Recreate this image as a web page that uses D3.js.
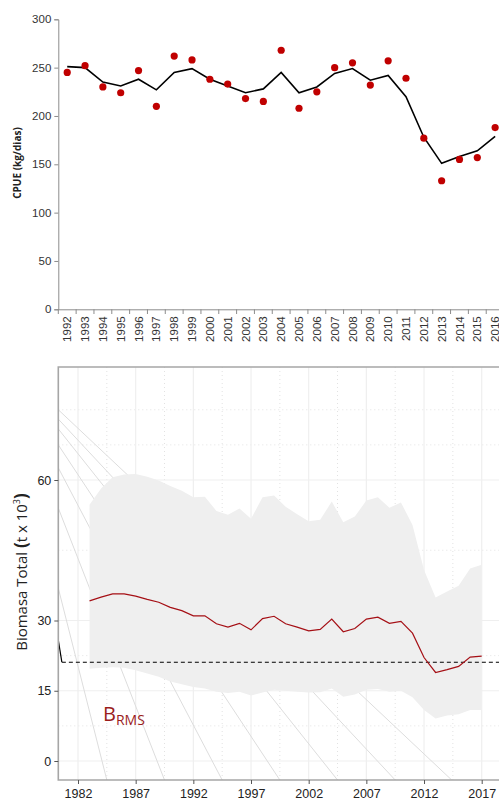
<!DOCTYPE html>
<html>
<head>
<meta charset="utf-8">
<script src="https://cdn.jsdelivr.net/npm/d3@7"></script>
<style>
  body { margin: 0; background: #fff; }
  svg { display: block; font-family: "Open Sans", sans-serif; }
</style>
</head>
<body>
<svg id="chart" width="499" height="798"></svg>
<script>
// ---- top panel: CPUE ----
const cpueYears = ['1992','1993','1994','1995','1996','1997','1998','1999','2000','2001','2002','2003',
    '2004','2005','2006','2007','2008','2009','2010','2011','2012','2013','2014','2015','2016'];
const cpueObs = [245, 252, 230, 224, 247, 210, 262, 258, 238, 233, 218, 215,
    268, 208, 225, 250, 255, 232, 257, 239, 177, 133, 155, 157, 188];
const cpueFit = [251, 250, 235, 231, 238, 227, 245, 249, 238, 231, 224, 228,
    245, 224, 230, 244, 249, 237, 242, 220, 178, 151, 158, 164, 179];
const cpueTicks = [0, 50, 100, 150, 200, 250, 300];

// ---- bottom panel: biomass ----
const bioYears = [1983,1984,1985,1986,1987,1988,1989,1990,1991,1992,1993,1994,1995,1996,1997,1998,1999,
    2000,2001,2002,2003,2004,2005,2006,2007,2008,2009,2010,2011,2012,2013,2014,2015,2016,2017];
const bioMid = [34.2, 35.0, 35.7, 35.7, 35.2, 34.5, 33.9, 32.8, 32.1, 31.0, 31.0, 29.3, 28.6, 29.4, 28.0,
    30.4, 30.9, 29.3, 28.6, 27.8, 28.1, 30.3, 27.6, 28.3, 30.3, 30.7, 29.4, 29.8, 27.3, 22.1, 18.9, 19.5,
    20.2, 22.2, 22.4];
const bioUpper = [54.7, 58.2, 60.6, 61.2, 61.3, 60.7, 59.9, 58.7, 57.7, 56.3, 56.4, 53.4, 52.6, 53.9, 51.7,
    56.3, 56.7, 54.3, 52.7, 51.2, 51.5, 55.4, 51.0, 52.2, 55.6, 56.3, 54.1, 55.2, 50.4, 40.8, 34.9, 36.2,
    37.4, 41.1, 41.9];
const bioLower = [19.7, 19.9, 20.0, 19.9, 19.4, 18.7, 18.0, 17.0, 16.4, 15.8, 15.5, 14.8, 14.5, 14.8, 14.0,
    14.6, 15.2, 15.0, 14.8, 14.6, 14.7, 15.5, 13.7, 14.2, 15.2, 15.4, 14.8, 15.0, 13.6, 10.9, 9.1, 9.7,
    10.0, 10.9, 10.9];
const bRms = 21.1;
const bioYTicks = [0, 15, 30, 60];
const bioYMinor = [7.5, 22.5, 45, 67.5, 75];
const bioXTicks = [1982, 1987, 1992, 1997, 2002, 2007, 2012, 2017];
const bioXMinor = [1984.5, 1989.5, 1994.5, 1999.5, 2004.5, 2009.5, 2014.5];
// faint diagonal background lines: value where they leave the left edge, year where they hit the bottom
const diagStart = [75.0, 73.0, 70.9, 67.5, 62.6, 54.0, 36.9];
const diagEnd = [2014.4, 2009.5, 2004.5, 1999.5, 1994.5, 1989.5, 1984.5];

const svg = d3.select('#chart');

// ================= top chart =================
const topG = svg.append('g');
const x1 = d3.scaleBand().domain(cpueYears).range([58.3, 58.3 + 25 * 17.83]);
const y1 = d3.scaleLinear().domain([0, 300]).range([309.3, 19.3]);

const yAxis1 = topG.append('g')
    .attr('transform', 'translate(58.3,0)')
    .call(d3.axisLeft(y1).tickValues(cpueTicks).tickSize(4).tickPadding(3));
yAxis1.select('.domain').attr('stroke', '#8c8c8c');
yAxis1.selectAll('.tick line').attr('stroke', '#8c8c8c');
yAxis1.selectAll('text').attr('font-size', 11.5).attr('fill', '#333');

const xAxis1 = topG.append('g')
    .attr('transform', 'translate(0,309.3)')
    .call(d3.axisBottom(x1).tickSize(0).tickPadding(0));
xAxis1.select('.domain').attr('stroke', '#8c8c8c').attr('d', 'M58.3,0.5H499');
xAxis1.selectAll('text')
    .attr('font-size', 11.5).attr('fill', '#333')
    .attr('transform', 'rotate(-90)')
    .attr('text-anchor', 'end')
    .attr('x', -7).attr('y', 0).attr('dy', '0.35em');
// Excel style ticks sit between the categories
topG.append('g').selectAll('line')
    .data(cpueYears.concat(['end']))
    .enter().append('line')
    .attr('x1', (d, i) => x1.range()[0] + i * x1.step())
    .attr('x2', (d, i) => x1.range()[0] + i * x1.step())
    .attr('y1', 309.3).attr('y2', 314)
    .attr('stroke', '#8c8c8c');

topG.append('text')
    .attr('transform', 'translate(21,163) rotate(-90)')
    .attr('text-anchor', 'middle')
    .attr('font-size', 10).attr('font-weight', 'bold').attr('fill', '#222')
    .text('CPUE (kg/dias)');

const line1 = d3.line()
    .x((d, i) => x1(cpueYears[i]) + x1.bandwidth() / 2)
    .y(d => y1(d));
topG.append('path')
    .datum(cpueFit)
    .attr('d', line1)
    .attr('fill', 'none').attr('stroke', '#000').attr('stroke-width', 1.6);

topG.selectAll('.dot')
    .data(cpueObs)
    .enter().append('circle')
    .attr('cx', (d, i) => x1(cpueYears[i]) + x1.bandwidth() / 2)
    .attr('cy', d => y1(d))
    .attr('r', 3.6)
    .attr('fill', '#c00000');

// ================= bottom chart =================
const bot = svg.append('g');
const x2 = d3.scaleLinear().domain([1982, 2017]).range([78, 481.7]);
const y2 = d3.scaleLinear().domain([0, 60]).range([761, 480]);
const pLeft = 58.3, pTop = 367, pBottom = 780, pRight = 512;

svg.append('defs').append('clipPath').attr('id', 'panel')
    .append('rect').attr('x', pLeft).attr('y', pTop)
    .attr('width', pRight - pLeft).attr('height', pBottom - pTop);

const panel = bot.append('g').attr('clip-path', 'url(#panel)');

// grid
panel.selectAll('.hminor').data(bioYMinor).enter().append('line')
    .attr('x1', pLeft).attr('x2', pRight)
    .attr('y1', d => y2(d)).attr('y2', d => y2(d))
    .attr('stroke', '#e2e2e2').attr('stroke-dasharray', '1,3');
panel.selectAll('.vminor').data(bioXMinor).enter().append('line')
    .attr('x1', d => x2(d)).attr('x2', d => x2(d))
    .attr('y1', pTop).attr('y2', pBottom)
    .attr('stroke', '#e2e2e2').attr('stroke-dasharray', '1,3');
panel.selectAll('.hmajor').data(bioYTicks).enter().append('line')
    .attr('x1', pLeft).attr('x2', pRight)
    .attr('y1', d => y2(d)).attr('y2', d => y2(d))
    .attr('stroke', '#efefef').attr('stroke-width', 1.2);
panel.selectAll('.vmajor').data(bioXTicks).enter().append('line')
    .attr('x1', d => x2(d)).attr('x2', d => x2(d))
    .attr('y1', pTop).attr('y2', pBottom)
    .attr('stroke', '#efefef').attr('stroke-width', 1.2);

// diagonal background lines
const xLeftVal = x2.invert(pLeft), yBottomVal = y2.invert(pBottom);
panel.selectAll('.diag').data(diagStart).enter().append('line')
    .attr('x1', x2(xLeftVal)).attr('y1', d => y2(d))
    .attr('x2', (d, i) => x2(diagEnd[i])).attr('y2', y2(yBottomVal))
    .attr('stroke', '#dddddd').attr('stroke-width', 1);

// uncertainty band
const area = d3.area()
    .x((d, i) => x2(bioYears[i]))
    .y0((d, i) => y2(bioLower[i]))
    .y1(d => y2(d));
panel.append('path').datum(bioUpper).attr('d', area).attr('fill', '#efefef');

// BRMS reference
panel.append('line')
    .attr('x1', x2(xLeftVal)).attr('y1', y2(25.8))
    .attr('x2', x2(1980.6)).attr('y2', y2(bRms))
    .attr('stroke', '#000').attr('stroke-width', 1.2);
panel.append('line')
    .attr('x1', x2(1980.6)).attr('x2', pRight)
    .attr('y1', y2(bRms)).attr('y2', y2(bRms))
    .attr('stroke', '#000').attr('stroke-width', 1.1).attr('stroke-dasharray', '4,3');

// biomass line
const line2 = d3.line().x((d, i) => x2(bioYears[i])).y(d => y2(d));
panel.append('path').datum(bioMid).attr('d', line2)
    .attr('fill', 'none').attr('stroke', '#a50f15').attr('stroke-width', 1.2);

// frame
bot.append('path')
    .attr('d', `M${pRight},${pTop}H${pLeft}V${pBottom}H${pRight}`)
    .attr('fill', 'none').attr('stroke', '#a6a6a6').attr('stroke-width', 1.6);

// axes
const yAxis2 = bot.append('g')
    .attr('transform', `translate(${pLeft},0)`)
    .call(d3.axisLeft(y2).tickValues(bioYTicks).tickSize(4).tickPadding(3));
yAxis2.select('.domain').remove();
yAxis2.selectAll('.tick line').attr('stroke', '#555');
yAxis2.selectAll('text').attr('font-size', 12.5).attr('fill', '#222');

const xAxis2 = bot.append('g')
    .attr('transform', `translate(0,${pBottom})`)
    .call(d3.axisBottom(x2).tickValues(bioXTicks).tickFormat(d3.format('d')).tickSize(4).tickPadding(5));
xAxis2.select('.domain').remove();
xAxis2.selectAll('.tick line').attr('stroke', '#555');
xAxis2.selectAll('text').attr('font-size', 12.5).attr('fill', '#222');

// y label
const ylab = bot.append('text')
    .attr('transform', 'translate(27,572) rotate(-90)')
    .attr('text-anchor', 'middle')
    .attr('font-size', 15).attr('fill', '#222');
ylab.append('tspan').text('Biomasa Total ');
ylab.append('tspan').attr('font-weight', 'bold').attr('font-size', 17).text('(');
ylab.append('tspan').text('t x 10');
ylab.append('tspan').attr('font-size', 9).attr('dy', -7).text('3');
ylab.append('tspan').attr('font-weight', 'bold').attr('font-size', 17).attr('dy', 7).text(')');

// BRMS label
const brms = bot.append('text')
    .attr('x', 103).attr('y', 721)
    .attr('fill', '#9b1c1c').attr('font-size', 20);
brms.append('tspan').text('B');
brms.append('tspan').attr('font-size', 14).attr('dy', 4).text('RMS');
</script>
</body>
</html>
